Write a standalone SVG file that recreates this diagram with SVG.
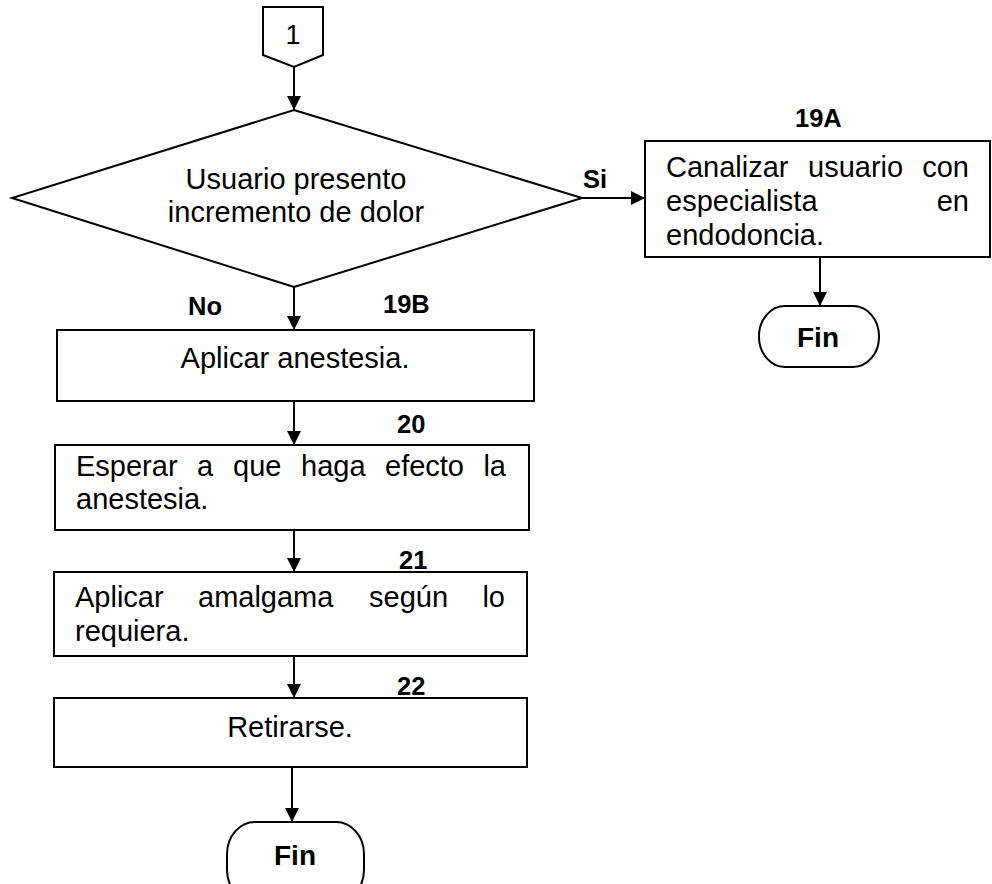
<svg xmlns="http://www.w3.org/2000/svg" width="992" height="884" viewBox="0 0 992 884">
<style>
.shape{fill:#fff;stroke:#000;stroke-width:2}
.t{font-family:"Liberation Sans",Arial,sans-serif;font-size:29px;fill:#000}
.c{text-anchor:middle}
.lb{font-family:"Liberation Sans",Arial,sans-serif;font-size:25.5px;font-weight:bold;fill:#000}
.fin{font-family:"Liberation Sans",Arial,sans-serif;font-size:28px;font-weight:bold;fill:#000;text-anchor:middle}
.conn{stroke:#000;stroke-width:2;fill:none;marker-end:url(#ah)}
</style>
<defs>
<marker id="ah" markerUnits="userSpaceOnUse" markerWidth="14" markerHeight="14" refX="14" refY="7" orient="auto">
<path d="M0,0 L14,7 L0,14 Z" fill="#000"/>
</marker>
</defs>
<rect width="992" height="884" fill="#fff"/>
<g id="connectors">
<line class="conn" x1="294" y1="67" x2="294" y2="110"/>
<line class="conn" x1="582" y1="198" x2="645" y2="198"/>
<line class="conn" x1="820" y1="257" x2="820" y2="306"/>
<line class="conn" x1="294" y1="287" x2="294" y2="330"/>
<line class="conn" x1="294" y1="401" x2="294" y2="445"/>
<line class="conn" x1="294" y1="530" x2="294" y2="572"/>
<line class="conn" x1="294" y1="656" x2="294" y2="698"/>
<line class="conn" x1="292" y1="767" x2="292" y2="822"/>
</g>
<g id="n_off">
<path class="shape" d="M263,7 H323 V55 L294,67 L263,55 Z"/>
<text class="t c" x="293" y="44" style="font-size:27px">1</text>
</g>
<g id="n_decision">
<polygon class="shape" points="294,110 582,198 294,287 12,198"/>
<text class="t c" x="296" y="189">Usuario presento</text>
<text class="t c" x="296" y="222">incremento de dolor</text>
</g>
<g id="lbl_si"><text class="lb" x="583" y="188">Si</text></g>
<g id="lbl_no"><text class="lb" x="188" y="315">No</text></g>
<g id="n_19a">
<text class="lb" x="795" y="127">19A</text>
<rect class="shape" x="645" y="141" width="345" height="116"/>
<text class="t" y="177"><tspan x="666">Canalizar</tspan><tspan x="808">usuario</tspan><tspan x="969" text-anchor="end">con</tspan></text>
<text class="t" y="211"><tspan x="666">especialista</tspan><tspan x="969" text-anchor="end">en</tspan></text>
<text class="t" x="666" y="245">endodoncia.</text>
</g>
<g id="n_fin1">
<rect class="shape" x="759" y="306" width="120" height="61" rx="26" ry="30"/>
<text class="fin" x="818" y="347">Fin</text>
</g>
<g id="n_19b">
<text class="lb" x="383" y="313">19B</text>
<rect class="shape" x="57" y="330" width="477" height="71"/>
<text class="t c" x="295" y="368">Aplicar anestesia.</text>
</g>
<g id="n_20">
<text class="lb" x="397" y="433">20</text>
<rect class="shape" x="55" y="445" width="474" height="85"/>
<text class="t" y="476"><tspan x="76">Esperar</tspan><tspan x="197">a</tspan><tspan x="233">que</tspan><tspan x="301">haga</tspan><tspan x="385">efecto</tspan><tspan x="506" text-anchor="end">la</tspan></text>
<text class="t" x="76" y="509">anestesia.</text>
</g>
<g id="n_21">
<text class="lb" x="399" y="569">21</text>
<rect class="shape" x="54" y="572" width="473" height="84"/>
<text class="t" y="607"><tspan x="75">Aplicar</tspan><tspan x="198">amalgama</tspan><tspan x="369">según</tspan><tspan x="505" text-anchor="end">lo</tspan></text>
<text class="t" x="75" y="641">requiera.</text>
</g>
<g id="n_22">
<text class="lb" x="397" y="695">22</text>
<rect class="shape" x="54" y="698" width="473" height="69"/>
<text class="t c" x="290" y="737">Retirarse.</text>
</g>
<g id="n_fin2">
<rect class="shape" x="227" y="822" width="137" height="80" rx="28" ry="32"/>
<text class="fin" x="295" y="865">Fin</text>
</g>
</svg>
